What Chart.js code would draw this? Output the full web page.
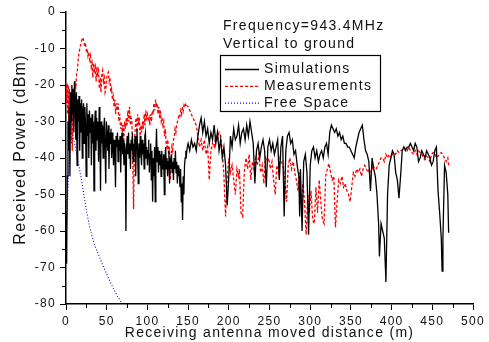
<!DOCTYPE html>
<html>
<head>
<meta charset="utf-8">
<script src="https://cdn.jsdelivr.net/npm/chart.js@4"></script>
<style>
    html, body { margin: 0; padding: 0; background: #fff; }
    #wrap { width: 489px; height: 342px; position: relative; }
</style>
</head>
<body>
<div id="wrap"><canvas id="power-chart"></canvas></div>
<script>
/* ===========================
   DATA
=========================== */

const simDistance = [
    0, 0.8, 1.6, 2.4, 3.2, 4, 4.8, 5.6, 6.4, 7.2,
    8, 8.8, 9.6, 10.4, 11.2, 12, 12.8, 13.6, 14.4, 15.2,
    16, 16.8, 17.6, 18.4, 19.2, 20, 20.8, 21.6, 22.4, 23.2,
    24, 24.8, 25.6, 26.4, 27.2, 28, 28.8, 29.6, 30.4, 31.2,
    32, 32.8, 33.6, 34.4, 35.2, 36, 36.8, 37.6, 38.4, 39.2,
    40, 40.8, 41.6, 42.4, 43.2, 44, 44.8, 45.6, 46.4, 47.2,
    48, 48.8, 49.6, 50.4, 51.2, 52, 52.8, 53.6, 54.4, 55.2,
    56, 56.8, 57.6, 58.4, 59.2, 60, 60.8, 61.6, 62.4, 63.2,
    64, 64.8, 65.6, 66.4, 67.2, 68, 68.8, 69.6, 70.4, 71.2,
    72, 72.8, 73.6, 74.4, 75.2, 76, 76.8, 77.6, 78.4, 79.2,
    80, 80.8, 81.6, 82.4, 83.2, 84, 84.8, 85.6, 86.4, 87.2,
    88, 88.8, 89.6, 90.4, 91.2, 92, 92.8, 93.6, 94.4, 95.2,
    96, 96.8, 97.6, 98.4, 99.2, 100, 100.8, 101.6, 102.4, 103.2,
    104, 104.8, 105.6, 106.4, 107.2, 108, 108.8, 109.6, 110.4, 111.2,
    112, 112.8, 113.6, 114.4, 115.2, 116, 116.8, 117.6, 118.4, 119.2,
    120, 120.8, 121.6, 122.4, 123.2, 124, 124.8, 125.6, 126.4, 127.2,
    128, 128.8, 129.6, 130.4, 131.2, 132, 132.8, 133.6, 134.4, 135.2,
    136, 136.8, 137.6, 138.4, 139.2, 140, 140.8, 141.6, 142.4, 143.2,
    144, 144.8, 145.6, 146.4, 147.2, 148, 149, 150, 152, 154,
    156, 158, 160, 162, 164, 166, 168, 170, 172, 174,
    176, 178, 180, 182, 184, 186, 188, 190, 192, 194,
    196, 198, 200, 202, 204, 206, 208, 210, 212, 214,
    216, 218, 220, 222, 224, 226, 228, 230, 232, 234,
    236, 238, 240, 242, 244, 246, 248, 250, 252, 254,
    256, 258, 260, 262, 264, 266, 268, 270, 272, 274,
    276, 278, 280, 282, 284, 286, 287, 288, 290, 292,
    294, 296, 298, 300, 302, 304, 306, 308, 310, 312,
    314, 316, 318, 320, 322, 324, 326, 328, 330, 332,
    334, 336, 338, 340, 342, 344, 346, 348, 350, 352,
    354, 356, 358, 360, 362, 364, 366, 368, 370, 372,
    374, 376, 378, 380, 382, 384, 385, 387, 389, 391,
    393, 395, 397, 399, 401, 403, 405, 407, 409, 411,
    413, 415, 417, 419, 421, 423, 425, 427, 429, 431,
    433, 435, 437, 439, 441, 443, 445, 447, 449, 451,
    453, 455, 457, 459, 461, 462, 463, 465, 467, 469, 470
];

const simPower = [
    -55, -69, -45, -30, -38, -26, -45, -22, -30, -20,
    -28, -21, -33, -19, -24, -35, -22, -42, -24, -30,
    -23, -38, -25, -33, -24, -40, -27, -25, -36, -26,
    -31, -45, -25, -34, -28, -40, -27, -33, -29, -42,
    -28, -36, -30, -49, -31, -27, -38, -29, -35, -30,
    -41, -26, -33, -49, -30, -36, -31, -40, -32, -29,
    -37, -47, -30, -34, -38, -31, -43, -33, -36, -32,
    -40, -33, -37, -42, -35, -38, -48, -34, -37, -33,
    -41, -35, -38, -34, -44, -36, -33, -39, -35, -42,
    -36, -38, -60, -37, -34, -39, -33, -40, -36, -43,
    -35, -38, -33, -41, -36, -39, -34, -45, -37, -32,
    -38, -47, -36, -40, -34, -38, -42, -35, -39, -36,
    -43, -34, -33, -40, -37, -42, -38, -35, -44, -39,
    -36, -46, -38, -52, -40, -45, -37, -52, -39, -32,
    -41, -37, -44, -38, -42, -39, -45, -38, -41, -43,
    -39, -50, -40, -37, -43, -40, -45, -41, -38, -47,
    -40, -43, -39, -44, -41, -46, -40, -43, -38, -44,
    -41, -47, -42, -45, -44, -48, -43, -52, -47, -57,
    -45, -50, -42, -40, -38, -39, -37, -36, -38, -35,
    -37, -36, -38, -34, -31, -29, -33, -30, -34, -32,
    -36, -33, -35, -31, -36, -33, -38, -35, -40, -37,
    -42, -53, -45, -34, -37, -32, -35, -34, -31, -36,
    -33, -32, -35, -31, -34, -30, -33, -36, -47, -38,
    -36, -40, -37, -35, -38, -48, -37, -35, -38, -36,
    -39, -37, -35, -46, -37, -34, -56, -38, -34, -33,
    -36, -35, -39, -38, -42, -45, -56, -43, -60, -41,
    -39, -44, -61, -42, -38, -37, -40, -38, -41, -39,
    -38, -40, -37, -36, -39, -33, -31, -32, -33, -32,
    -34, -33, -35, -34, -36, -36, -37, -37, -38, -39,
    -40, -37, -35, -33, -32, -31, -35, -38, -39, -41,
    -49, -40, -43, -45, -50, -58, -67, -58, -60, -62,
    -74, -50, -42, -40, -38, -39, -44, -46, -51, -45,
    -38, -37, -38, -37, -37, -36, -37, -38, -36, -37,
    -41, -40, -38, -39, -40, -38, -39, -40, -42, -41,
    -38, -37, -49, -55, -62, -71, -62, -42, -44, -50, -60.5
];

const measDistance = [
    0, 0.7, 1.4, 2.1, 2.8, 3.5, 4.2, 4.9, 5.6, 6.3,
    7, 7.7, 8.4, 9.1, 9.8, 10.5, 11.2, 12, 13, 14,
    15, 16, 17, 18, 19, 20.5, 22, 23, 24, 25,
    26, 27, 28, 29, 30, 31, 32, 33, 34, 35,
    36, 37, 38, 39, 40, 41, 42, 43, 44, 45,
    46, 47, 48, 49, 50, 51, 52, 53, 54, 55,
    56, 57, 58, 59, 60, 61, 62, 63, 64, 65,
    66, 67, 68, 69, 70, 71, 72, 73, 74, 75,
    76, 77, 78, 79, 80, 81, 82, 83, 84, 85,
    86, 87, 88, 89, 90, 91, 92, 93, 94, 95,
    96, 97, 98, 99, 100, 101, 102, 103, 104, 105,
    106, 107, 108, 109, 110, 111, 112, 113, 114, 115,
    116, 117, 118, 119, 120, 121, 122, 123, 124, 125,
    126, 127, 128, 129, 130, 131, 132, 133, 134, 135,
    136, 137, 138, 139, 140, 141, 142, 143, 144, 145,
    146, 147, 148, 150, 152, 154, 156, 158, 160, 162,
    164, 166, 168, 170, 172, 174, 176, 178, 180, 182,
    184, 186, 188, 190, 192, 194, 196, 198, 200, 202,
    204, 206, 208, 210, 212, 213, 215, 217, 219, 221,
    223, 225, 227, 229, 231, 233, 235, 237, 239, 241,
    243, 245, 247, 249, 251, 253, 255, 257, 259, 261,
    263, 265, 267, 269, 271, 273, 275, 277, 279, 281,
    283, 285, 287, 289, 291, 293, 295, 297, 299, 301,
    303, 305, 307, 309, 311, 313, 315, 317, 319, 321,
    323, 325, 327, 329, 331, 333, 335, 337, 339, 341,
    343, 345, 347, 349, 351, 353, 355, 357, 359, 361,
    363, 365, 367, 369, 371, 373, 375, 377, 379, 381,
    383, 385, 387, 389, 391, 393, 395, 397, 399, 401,
    403, 405, 407, 409, 411, 413, 415, 417, 419, 421,
    423, 425, 427, 429, 431, 433, 435, 437, 439, 441,
    443, 445, 447, 449, 451, 453, 455, 457, 459, 461,
    463, 465, 467, 469, 470
];

const measPower = [
    -20, -25, -19.5, -28, -20, -30, -21, -27, -23, -36,
    -29, -38, -25, -30, -22, -26, -19, -21, -17, -16,
    -13, -11, -10, -9, -8, -7, -8, -9.5, -9, -10.5,
    -10, -12, -11, -13, -12, -15, -14, -18, -14, -16,
    -15, -19, -15, -17, -16, -21, -18, -22, -17, -16,
    -19, -18, -22, -21, -18, -17, -16.5, -19, -18, -22,
    -21, -24, -23, -26, -24, -28, -25, -27, -25, -30,
    -28, -32, -30, -33, -31, -35, -30, -32, -29, -31,
    -27, -30, -26, -31, -29, -30, -42, -54, -36, -32,
    -29, -33, -28, -31, -29, -34, -31, -33, -30, -32,
    -28, -31, -27, -29, -28, -30, -29, -31, -28, -30,
    -27, -28, -25, -27, -24, -26, -25, -28, -26, -29,
    -27, -30, -29, -31, -30, -34, -32, -36, -37, -35,
    -39, -37, -46, -40, -37, -38, -35, -34, -32, -33,
    -31, -30, -29, -28, -28.5, -27, -28, -26, -27, -25.5,
    -26, -25, -25.5, -26, -27, -28, -29, -30, -31, -34,
    -37, -35, -38, -35, -39, -37, -46, -38, -36, -37,
    -34, -35, -33, -34, -38, -45, -56, -46, -40, -44,
    -42, -46, -50, -43, -45, -43, -55, -56, -44, -40,
    -43, -39, -46, -41, -43, -40, -42, -39, -44, -42,
    -47, -40, -41, -40, -43, -41, -46, -50, -42, -44,
    -40, -41, -43, -46, -52, -42, -40, -43, -41, -44,
    -46, -49, -44, -54, -47, -52, -61, -50, -55, -49,
    -57, -58, -48, -55, -46, -52, -57, -58, -45, -43,
    -41.5, -44, -46, -45, -59, -52, -46, -47, -45, -48,
    -47, -49, -50, -52, -48, -44, -45, -43, -44, -43,
    -45, -43, -42, -43, -44, -43, -44, -42, -43, -43,
    -42, -41, -40, -40, -41, -39, -40, -39, -40, -39,
    -38.5, -39, -38, -38.5, -38, -37.8, -37, -37.5, -38, -37,
    -38, -38.5, -39, -38, -39, -38, -38.5, -38.7, -40, -40.5,
    -39.5, -40, -41, -39, -38.5, -38.7, -40, -39.5, -39, -38.5,
    -39.2, -40, -41, -40, -42
];

const freeDistance = [
    0.3, 1.2, 2, 3, 4, 5, 6, 7, 8, 9,
    10, 12, 14, 17, 19, 23, 26, 29, 32, 35,
    38, 41, 45, 49, 53, 57, 60, 63, 66, 68, 70
];

const freePower = [
    -58, -56, -51, -45, -40, -36, -33, -31.5, -33, -34.5,
    -35.5, -37.5, -40, -43.5, -46, -51.5, -55.5, -58.8, -61.5, -63.8,
    -65.5, -67, -69.3, -71.3, -73.3, -75.2, -76.5, -77.8, -78.8, -79.6, -80.6
];

const seriesLabels = ["Simulations", "Measurements", "Free Space"];
const noteLines = ["Frequency=943.4MHz", "Vertical to ground"];
const xTitle = "Receiving antenna moved distance (m)";
const yTitle = "Received Power (dBm)";

/* ===========================
   HELPERS / PLUGINS
=========================== */

const FONT = "'Liberation Sans', Arial, sans-serif";
const SPACING = "1.3px";

function toPoints(xs, ys) {
    return xs.map((x, i) => ({ x: x, y: ys[i] }));
}

// Origin-style wide lettering
const spacingPlugin = {
    id: "spacing",
    beforeUpdate(chart) { chart.ctx.letterSpacing = SPACING; },
    beforeDraw(chart) { chart.ctx.letterSpacing = SPACING; }
};

// short minor ticks between the labelled ones
const minorTicks = {
    id: "minorTicks",
    afterDraw(chart) {
        const ctx = chart.ctx;
        const xs = chart.scales.x;
        const ys = chart.scales.y;

        ctx.save();
        ctx.strokeStyle = "#000";
        ctx.lineWidth = 1;
        ctx.beginPath();

        for (let v = -75; v < 0; v += 10) {
            const py = Math.round(ys.getPixelForValue(v)) + 0.5;
            ctx.moveTo(ys.right - 4, py);
            ctx.lineTo(ys.right, py);
        }

        for (let v = 25; v < 500; v += 50) {
            const px = Math.round(xs.getPixelForValue(v)) + 0.5;
            ctx.moveTo(px, xs.top);
            ctx.lineTo(px, xs.top + 4);
        }

        ctx.stroke();
        ctx.restore();
    }
};

// legend box + frequency note inside the plot
const boxLegend = {
    id: "boxLegend",
    afterDraw(chart) {
        const ctx = chart.ctx;

        ctx.save();
        ctx.font = "14px " + FONT;
        ctx.fillStyle = "#111";
        ctx.textBaseline = "middle";
        ctx.textAlign = "left";

        noteLines.forEach((t, i) => {
            ctx.fillText(t, 223, 26.5 + i * 17.5);
        });

        ctx.strokeStyle = "#000";
        ctx.lineWidth = 1.2;
        ctx.setLineDash([]);
        ctx.strokeRect(220.5, 55.5, 160, 56);

        chart.data.datasets.forEach((ds, i) => {
            const y = 69.5 + i * 16.8;

            ctx.save();
            ctx.strokeStyle = ds.borderColor;
            ctx.lineWidth = ds.borderWidth;
            ctx.setLineDash(ds.borderDash || []);
            ctx.beginPath();
            ctx.moveTo(225, y);
            ctx.lineTo(259, y);
            ctx.stroke();
            ctx.restore();

            ctx.fillText(ds.label, 264, y);
        });

        ctx.restore();
    }
};

/* ===========================
   CHART
=========================== */

Chart.defaults.font.family = FONT;
Chart.defaults.color = "#111";

new Chart(document.getElementById("power-chart"), {
    type: "line",

    data: {
        datasets: [
            {
                label: seriesLabels[0],
                data: toPoints(simDistance, simPower),
                borderColor: "#000000",
                borderWidth: 1.3,
                pointRadius: 0,
                tension: 0
            },
            {
                label: seriesLabels[1],
                data: toPoints(measDistance, measPower),
                borderColor: "#ff0000",
                borderWidth: 1.3,
                borderDash: [3, 2],
                pointRadius: 0,
                tension: 0
            },
            {
                label: seriesLabels[2],
                data: toPoints(freeDistance, freePower),
                borderColor: "#0000ff",
                borderWidth: 1.1,
                borderDash: [1, 2],
                pointRadius: 0,
                tension: 0
            }
        ]
    },

    options: {
        responsive: true,
        maintainAspectRatio: false,
        animation: false,
        events: [],

        layout: {
            padding: { top: 12, right: 10, left: 0, bottom: 0 }
        },

        plugins: {
            legend: { display: false },
            tooltip: { enabled: false }
        },

        scales: {
            x: {
                type: "linear",
                min: 0,
                max: 500,
                afterFit(scale) { scale.height = 38; },
                border: { color: "#000", width: 1.5 },
                grid: {
                    drawOnChartArea: false,
                    tickLength: 6,
                    tickColor: "#000",
                    tickWidth: 1
                },
                ticks: {
                    stepSize: 50,
                    padding: 4,
                    maxRotation: 0,
                    font: { size: 12 }
                },
                title: {
                    display: true,
                    text: xTitle,
                    font: { size: 14 },
                    padding: { top: 0, bottom: 0 }
                }
            },

            y: {
                min: -80,
                max: 0,
                afterFit(scale) { scale.width = 66; },
                border: { color: "#000", width: 1.5 },
                grid: {
                    drawOnChartArea: false,
                    tickLength: 6,
                    tickColor: "#000",
                    tickWidth: 1
                },
                ticks: {
                    stepSize: 10,
                    padding: 4,
                    font: { size: 12 }
                },
                title: {
                    display: true,
                    text: "   " + yTitle,
                    font: { size: 16 },
                    padding: { top: 11, bottom: 0 }
                }
            }
        }
    },

    plugins: [spacingPlugin, minorTicks, boxLegend]
});
</script>
</body>
</html>
